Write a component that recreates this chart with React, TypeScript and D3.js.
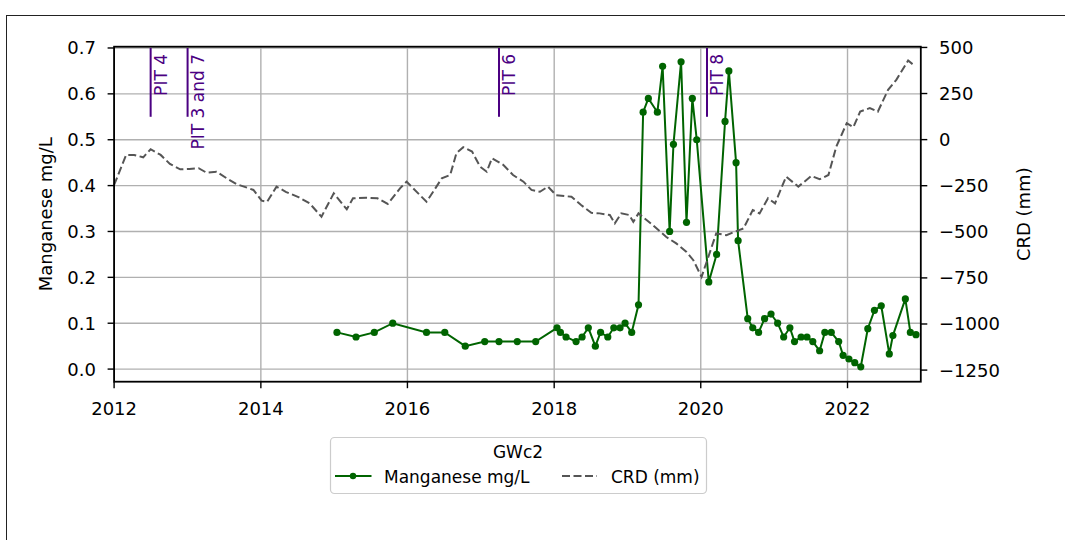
import React from 'react';
import * as d3 from 'd3';

const W = 1065;
const H = 540;

// Manganese samples, GWc2 (mg/L)
const mnDates = [
  '2015-01-15', '2015-04-20', '2015-07-20', '2015-10-20', '2016-04-05', '2016-07-05',
  '2016-10-15', '2017-01-20', '2017-04-01', '2017-07-01', '2017-10-01', '2018-01-15',
  '2018-02-01', '2018-03-01', '2018-04-20', '2018-05-20', '2018-06-20', '2018-07-25',
  '2018-08-20', '2018-09-25', '2018-10-25', '2018-11-25', '2018-12-20', '2019-01-22',
  '2019-02-25', '2019-03-20', '2019-04-15', '2019-05-30', '2019-06-25', '2019-07-30',
  '2019-08-18', '2019-09-25', '2019-10-22', '2019-11-20', '2019-12-12', '2020-02-10',
  '2020-03-20', '2020-05-01', '2020-05-20', '2020-06-25', '2020-07-05', '2020-08-22',
  '2020-09-16', '2020-10-15', '2020-11-14', '2020-12-16', '2021-01-18', '2021-02-17',
  '2021-03-20', '2021-04-12', '2021-05-15', '2021-06-13', '2021-07-12', '2021-08-15',
  '2021-09-10', '2021-10-12', '2021-11-18', '2021-12-10', '2022-01-08', '2022-02-06',
  '2022-03-08', '2022-04-12', '2022-05-15', '2022-06-18', '2022-07-28', '2022-08-15',
  '2022-10-16', '2022-11-10', '2022-12-08',
];
const mnValues = [
  0.08, 0.07, 0.08, 0.10, 0.08, 0.08,
  0.05, 0.06, 0.06, 0.06, 0.06, 0.09,
  0.08, 0.07, 0.06, 0.07, 0.09, 0.05,
  0.08, 0.07, 0.09, 0.09, 0.10, 0.08,
  0.14, 0.56, 0.59, 0.56, 0.66, 0.30,
  0.49, 0.67, 0.32, 0.59, 0.50, 0.19,
  0.25, 0.54, 0.65, 0.45, 0.28, 0.11,
  0.09, 0.08, 0.11, 0.12, 0.10, 0.07,
  0.09, 0.06, 0.07, 0.07, 0.06, 0.04,
  0.08, 0.08, 0.06, 0.03, 0.022, 0.014,
  0.005, 0.088, 0.128, 0.138, 0.033, 0.073,
  0.153, 0.08, 0.075,
];

// Cumulative rainfall departure (mm)
const crdDates = [
  '2012-01-01', '2012-03-01', '2012-04-10', '2012-05-25', '2012-07-01', '2012-08-20',
  '2012-10-05', '2012-11-25', '2013-01-10', '2013-02-25', '2013-04-05', '2013-05-25',
  '2013-07-15', '2013-09-01', '2013-10-20', '2013-11-25', '2014-01-05', '2014-02-01',
  '2014-03-20', '2014-05-05', '2014-07-10', '2014-09-01', '2014-10-30', '2014-12-30',
  '2015-03-05', '2015-04-05', '2015-06-10', '2015-08-05', '2015-09-25', '2015-11-25',
  '2015-12-28', '2016-04-05', '2016-05-08', '2016-06-20', '2016-08-01', '2016-09-01',
  '2016-10-05', '2016-11-18', '2016-12-28', '2017-01-30', '2017-02-25', '2017-04-22',
  '2017-06-10', '2017-08-01', '2017-09-10', '2017-10-22', '2017-12-01', '2018-01-10',
  '2018-03-28', '2018-05-15', '2018-07-05', '2018-08-15', '2018-10-05', '2018-10-30',
  '2018-12-01', '2019-01-10', '2019-01-30', '2019-02-25', '2019-05-08', '2019-07-12',
  '2019-09-01', '2019-10-22', '2019-11-25', '2020-01-05', '2020-03-18', '2020-05-08',
  '2020-06-18', '2020-08-01', '2020-09-16', '2020-10-20', '2020-12-01', '2021-01-05',
  '2021-03-01', '2021-05-01', '2021-07-05', '2021-08-15', '2021-09-28', '2021-11-06',
  '2021-12-28', '2022-01-30', '2022-03-05', '2022-04-22', '2022-06-01', '2022-07-22',
  '2022-09-01', '2022-10-30', '2022-11-25',
];
const crdValues = [
  -246, -83, -83, -96, -52, -83,
  -132, -161, -159, -155, -179, -174,
  -210, -241, -259, -273, -331, -337,
  -255, -283, -313, -346, -418, -291,
  -378, -318, -315, -318, -349, -264,
  -228, -337, -283, -210, -192, -74,
  -41, -65, -147, -174, -101, -137,
  -192, -228, -273, -283, -255, -301,
  -310, -355, -397, -400, -409, -454,
  -400, -409, -446, -400, -464, -527,
  -563, -609, -654, -745, -509, -518,
  -500, -482, -382, -400, -318, -346,
  -201, -255, -197, -215, -192, -38,
  89, 67, 152, 171, 152, 270,
  324, 429, 406,
];

const pitDates = ['2012-07-01', '2013-01-01', '2017-04-01', '2020-02-01'];
const pitLabels = ['PIT 4', 'PIT 3 and 7', 'PIT 6', 'PIT 8'];

const yearTicks = [2012, 2014, 2016, 2018, 2020, 2022];
const mnTicks = [0, 0.1, 0.2, 0.3, 0.4, 0.5, 0.6, 0.7];
const crdTicks = [500, 250, 0, -250, -500, -750, -1000, -1250];

const parse = d3.timeParse('%Y-%m-%d');
const FONT = 'DejaVu Sans, sans-serif';
const GREEN = '#006400';
const PURPLE = '#4b0082';

const App: React.FC = () => {
  const left = 114.1, right = 920.8, top = 46.7, bottom = 381.7;

  const x = d3.scaleTime()
    .domain([new Date(2012, 0, 1), new Date(2023, 0, 1)])
    .range([left, right]);
  const y = d3.scaleLinear().domain([-0.0275, 0.7028]).range([bottom, top]);
  const y2 = d3.scaleLinear().domain([-1313, 504]).range([bottom, top]);

  const mn = mnDates.map((d, i) => ({ date: parse(d)!, v: mnValues[i] }));
  const crd = crdDates.map((d, i) => ({ date: parse(d)!, v: crdValues[i] }));

  const mnLine = d3.line<{ date: Date; v: number }>()
    .x(d => x(d.date))
    .y(d => y(d.v));
  const crdLine = d3.line<{ date: Date; v: number }>()
    .x(d => x(d.date))
    .y(d => y2(d.v));

  const fmt = (v: number) => (v < 0 ? '\u2212' + Math.abs(v) : String(v));

  return (
    <svg width={W} height={H} style={{ position: 'absolute', left: 0, top: 0 }}
      fontFamily={FONT}>
      <rect x={0} y={0} width={W} height={H} fill="white" />
      {/* outer frame */}
      <rect x={6.5} y={15.5} width={2000} height={2000} fill="none" stroke="#222" strokeWidth={1} />

      {/* grid */}
      <g stroke="#b0b0b0" strokeWidth={1.4}>
        {yearTicks.map(t => (
          <line key={'gx' + t} x1={x(new Date(t, 0, 1))} x2={x(new Date(t, 0, 1))} y1={top} y2={bottom} />
        ))}
        {mnTicks.map(t => (
          <line key={'gy' + t} x1={left} x2={right} y1={y(t)} y2={y(t)} />
        ))}
      </g>

      {/* pit markers */}
      {pitDates.map((d, i) => {
        const px = x(parse(d)!);
        return (
          <g key={'pit' + i}>
            <line x1={px} x2={px} y1={y(0.7)} y2={y(0.55)} stroke={PURPLE} strokeWidth={2} />
            <text transform={`translate(${px + 16},${54}) rotate(-90)`} textAnchor="end"
              fontSize={17} fill={PURPLE}>{pitLabels[i]}</text>
          </g>
        );
      })}

      {/* manganese */}
      <path d={mnLine(mn) || ''} fill="none" stroke={GREEN} strokeWidth={2} />
      {mn.map((d, i) => (
        <circle key={'m' + i} cx={x(d.date)} cy={y(d.v)} r={3.6} fill={GREEN} />
      ))}

      {/* CRD */}
      <path d={crdLine(crd) || ''} fill="none" stroke="#555555" strokeWidth={2}
        strokeDasharray="8,3.5" />

      {/* spines */}
      <rect x={left} y={top} width={right - left} height={bottom - top} fill="none"
        stroke="black" strokeWidth={1.8} />

      {/* x axis */}
      {yearTicks.map(t => {
        const tx = x(new Date(t, 0, 1));
        return (
          <g key={'xt' + t}>
            <line x1={tx} x2={tx} y1={bottom} y2={bottom + 6.5} stroke="black" strokeWidth={1.4} />
            <text x={tx} y={415} textAnchor="middle" fontSize={18}>{t}</text>
          </g>
        );
      })}

      {/* left axis */}
      {mnTicks.map(t => (
        <g key={'yt' + t}>
          <line x1={left - 6.5} x2={left} y1={y(t)} y2={y(t)} stroke="black" strokeWidth={1.4} />
          <text x={96} y={y(t)} dy="0.36em" textAnchor="end" fontSize={18}>{t.toFixed(1)}</text>
        </g>
      ))}
      <text transform={`translate(52,${(top + bottom) / 2}) rotate(-90)`} textAnchor="middle"
        fontSize={18}>Manganese mg/L</text>

      {/* right axis */}
      {crdTicks.map(t => (
        <g key={'y2t' + t}>
          <line x1={right} x2={right + 6.5} y1={y2(t)} y2={y2(t)} stroke="black" strokeWidth={1.4} />
          <text x={939} y={y2(t)} dy="0.36em" textAnchor="start" fontSize={18}>{fmt(t)}</text>
        </g>
      ))}
      <text transform={`translate(1030,${(top + bottom) / 2}) rotate(-90)`} textAnchor="middle"
        fontSize={18}>CRD (mm)</text>

      {/* legend */}
      <g>
        <rect x={330.5} y={437.5} width={376} height={56} rx={4} fill="white" fillOpacity={0.8}
          stroke="#cccccc" strokeWidth={1.2} />
        <text x={518} y={458} textAnchor="middle" fontSize={17}>GWc2</text>
        <line x1={335} x2={371.5} y1={476} y2={476} stroke={GREEN} strokeWidth={2} />
        <circle cx={353} cy={476} r={3.2} fill={GREEN} />
        <text x={384} y={482.5} fontSize={17}>Manganese mg/L</text>
        <line x1={562} x2={597} y1={476} y2={476} stroke="#555555" strokeWidth={2}
          strokeDasharray="8,3.5" />
        <text x={611} y={482.5} fontSize={17}>CRD (mm)</text>
      </g>
    </svg>
  );
};

export default App;
